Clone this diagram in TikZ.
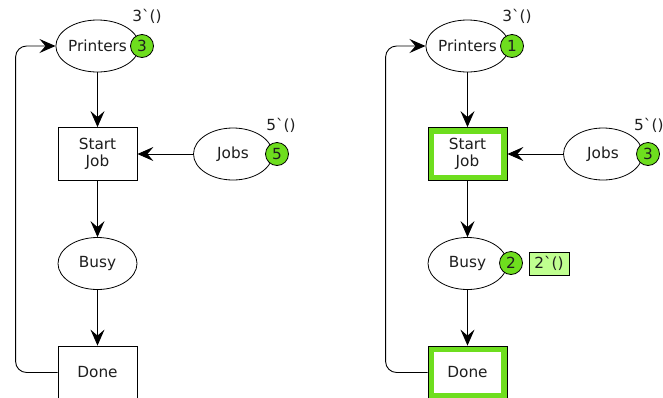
\documentclass[tikz,border=0pt]{standalone}
\usepackage{fontspec}
\setmainfont{DejaVu Sans}[Ligatures=TeXOff]
\usetikzlibrary{shapes.geometric,arrows.meta}
\definecolor{tokgreen}{RGB}{110,222,30}
\definecolor{lblgreen}{RGB}{192,255,144}
\definecolor{txt}{RGB}{30,30,30}
\tikzset{
  every node/.style={font=\fontsize{15.3}{18}\selectfont, text=txt},
  place/.style={ellipse, draw=black, line width=0.8pt, fill=white, minimum width=79pt, minimum height=52pt, inner sep=0pt},
  trans/.style={rectangle, draw=black, line width=0.8pt, fill=white, minimum width=79pt, minimum height=53pt, inner sep=0pt, align=center},
  activetrans/.style={trans, path picture={\draw[tokgreen, line width=12pt] (path picture bounding box.north west) rectangle (path picture bounding box.south east);}},
  token/.style={circle, draw=black, line width=0.8pt, fill=tokgreen, minimum size=23pt, inner sep=0pt},
  mark lbl/.style={inner sep=0pt},
  markbox/.style={rectangle, draw=black, line width=0.8pt, fill=lblgreen, minimum width=40pt, minimum height=23pt, inner sep=0pt},
  arc/.style={draw=black, line width=0.9pt, -{Stealth[length=16pt, width=14pt, inset=6pt]}},
}
\begin{document}
\begin{tikzpicture}[x=1pt, y=-1pt]
\useasboundingbox (0,0) rectangle (663,397);
% ---------- left net ----------
\node[place] (P1) at (97.5,46) {Printers};
\node[trans] (S1) at (97.5,154) {Start\\[-1pt]Job};
\node[place] (J1) at (233,154) {Jobs};
\node[place] (B1) at (97.5,263.5) {Busy};
\node[trans] (D1) at (97.5,372.5) {Done};
\node[token] (tP1) at (142,46) {3};
\node[token] (tJ1) at (277,154) {5};
\node[mark lbl] (lP1) at (147,16) {3\char"60()};
\node[mark lbl] (lJ1) at (281,125) {5\char"60()};
\draw[arc] (P1) -- (S1);
\draw[arc] (J1) -- (S1);
\draw[arc] (S1) -- (B1);
\draw[arc] (B1) -- (D1);
\draw[arc, rounded corners=11pt] (D1.west) -- ++(-42,0) |- (P1.west);
% ---------- right net ----------
\node[place] (P2) at (467.5,46) {Printers};
\node[activetrans] (S2) at (467.5,154) {Start\\[-1pt]Job};
\node[place] (J2) at (603,154) {Jobs};
\node[place] (B2) at (467.5,263.5) {Busy};
\node[activetrans] (D2) at (467.5,372.5) {Done};
\node[token] (tP2) at (512,46) {1};
\node[token] (tJ2) at (648,154) {3};
\node[token] (tB2) at (511,263) {2};
\node[mark lbl] (lP2) at (517,16) {3\char"60()};
\node[mark lbl, anchor=west] (lJ2) at (634,125) {5\char"60()};
\node[markbox] (lB2) at (549,263.5) {2\char"60()};
\draw[arc] (P2) -- (S2);
\draw[arc] (J2) -- (S2);
\draw[arc] (S2) -- (B2);
\draw[arc] (B2) -- (D2);
\draw[arc, rounded corners=11pt] (D2.west) -- ++(-42,0) |- (P2.west);
\end{tikzpicture}
\end{document}
